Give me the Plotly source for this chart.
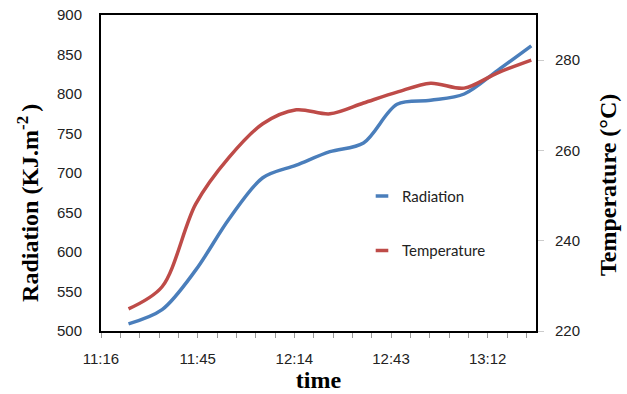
import plotly.graph_objects as go

times = ["11:25", "11:35", "11:45", "11:55", "12:05", "12:15", "12:25",
         "12:35", "12:45", "12:55", "13:05", "13:15", "13:25"]
radiation = [509, 527, 577, 642, 694, 710, 727, 738, 787, 792, 800, 830, 861]
temperature = [224.9, 229.8, 248.1, 258.5, 265.9, 269.0, 268.1, 270.5, 272.9, 274.9, 273.8, 277.2, 280.0]

day = "2000-01-01 "
x = [day + t + ":00" for t in times]

BLUE = "#4A7EBB"
RED = "#BE4B48"

fig = go.Figure()
fig.add_trace(go.Scatter(x=x, y=radiation, mode="lines", name="Radiation",
                         line=dict(color=BLUE, width=3.5, shape="spline", smoothing=0.9),
                         showlegend=False))
fig.add_trace(go.Scatter(x=x, y=temperature, mode="lines", name="Temperature", yaxis="y2",
                         line=dict(color=RED, width=3.5, shape="spline", smoothing=0.9),
                         showlegend=False))
# legend entries (short dash keys)
for name, col in (("Radiation", BLUE), ("Temperature", RED)):
    fig.add_trace(go.Scatter(x=[None], y=[None], mode="markers", name=name,
                             marker=dict(symbol="line-ew", size=9,
                                         line=dict(color=col, width=3.5)),
                             legendgroup=name))

tickfont = dict(family="Liberation Sans, Arial", size=15, color="#222")
titlefont = dict(family="Liberation Serif, Times New Roman", size=24, color="black")

fig.update_layout(
    width=627, height=394,
    margin=dict(l=101, r=91, t=15, b=63, autoexpand=False),
    paper_bgcolor="white", plot_bgcolor="white",
    xaxis=dict(
        type="date", automargin=False,
        range=[day + "11:16:48", day + "13:26:24"],
        tick0=day + "11:16:48", dtick=1728000, tickformat="%H:%M",
        ticks="outside", ticklen=5, tickcolor="#999", tickwidth=1,
        minor=dict(dtick=345600, tick0=day + "11:16:48", ticks="outside", ticklen=5,
                   tickcolor="#999", tickwidth=1, showgrid=False),
        showgrid=False, zeroline=False,
        showline=True, linecolor="black", linewidth=2, mirror=True,
        tickfont=tickfont, ticklabelstandoff=8,
        title=dict(text="<b>time</b>", font=titlefont, standoff=1),
    ),
    yaxis=dict(
        range=[500, 900], dtick=50, automargin=False,
        showgrid=False, zeroline=False,
        showline=True, linecolor="black", linewidth=2,
        ticks="", tickfont=tickfont, ticklabelstandoff=14,
    ),
    yaxis2=dict(
        range=[220, 290], tickvals=[220, 240, 260, 280], automargin=False,
        overlaying="y", side="right",
        showgrid=False, zeroline=False,
        showline=True, linecolor="black", linewidth=2,
        ticks="outside", ticklen=6, tickcolor="#ccc", tickwidth=1,
        tickfont=tickfont, ticklabelstandoff=8,
    ),
    legend=dict(x=0.60, y=0.341, xanchor="left", yanchor="middle",
                bgcolor="rgba(0,0,0,0)", font=dict(family="Lato, Open Sans", size=15, color="#222"),
                itemwidth=30, tracegroupgap=32),
    annotations=[
        dict(text="<b>Radiation (KJ.m<sup>-2 </sup>)</b>", xref="paper", yref="paper",
             x=-0.168, y=0.405, xanchor="center", yanchor="middle", textangle=-90,
             showarrow=False, font=titlefont),
        dict(text="<b>Temperature (°C)</b>", xref="paper", yref="paper",
             x=1.1655, y=0.462, xanchor="center", yanchor="middle", textangle=-90,
             showarrow=False, font=titlefont),
    ],
)

fig.write_html("out.html", config={"displayModeBar": False},
               post_script="document.body.style.margin='0';document.body.style.padding='0';")
